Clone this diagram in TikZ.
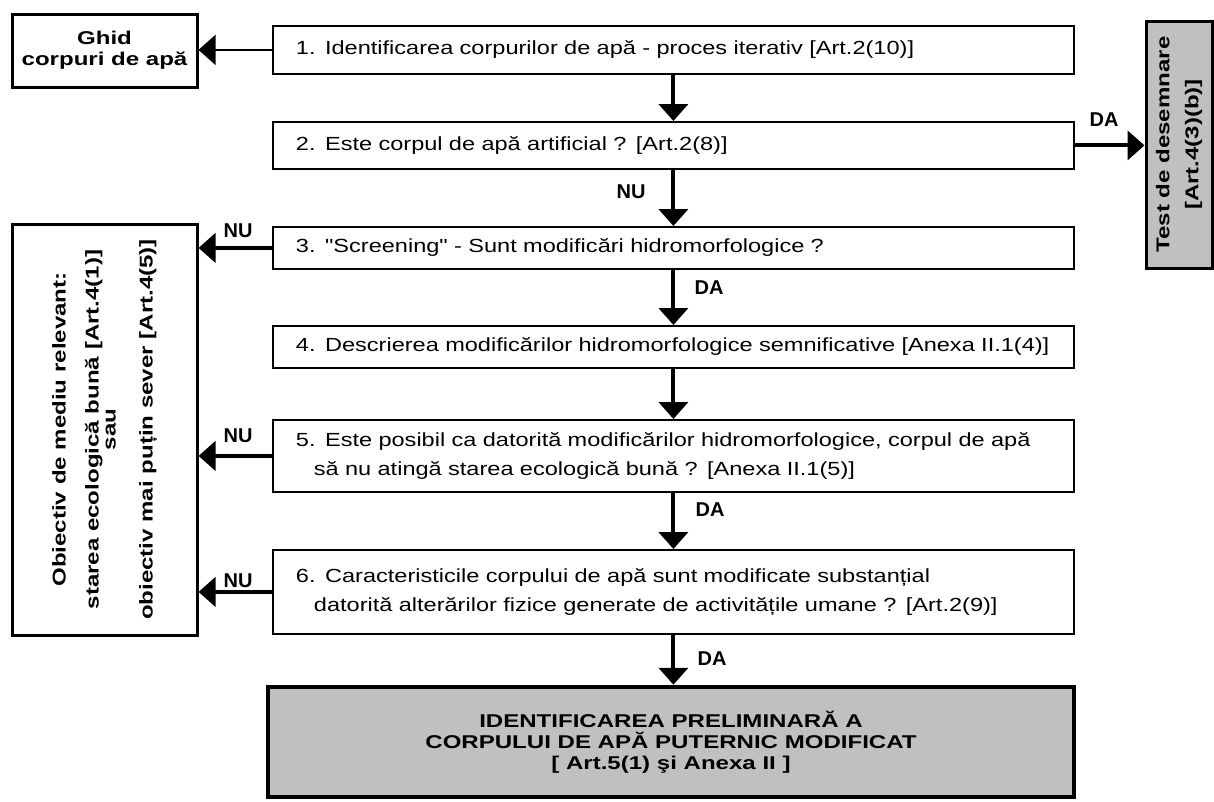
\documentclass[tikz,border=0pt]{standalone}
\usepackage{fontspec}
\setmainfont{Liberation Sans}
\newfontfamily\boxfont{Liberation Sans}[FakeStretch=1.24]
\newfontfamily\headfont{Liberation Sans}[FakeStretch=1.3]
\usetikzlibrary{arrows.meta}
\definecolor{panelgray}{HTML}{C0C0C0}
\begin{document}
\begin{tikzpicture}[x=1pt,y=-1pt,
  stepbox/.style={draw=black, line width=1.8pt, fill=white, anchor=north west,
    minimum width=801pt, text width=755pt, inner xsep=23pt, inner ysep=0pt,
    align=left, font=\boxfont\fontsize{19}{29}\selectfont},
  sidebox/.style={draw=black, line width=3pt, fill=white, align=center, inner sep=0pt,
    font=\headfont\bfseries\fontsize{18.5}{21}\selectfont},
  graybox/.style={draw=black, fill=panelgray, align=center, inner sep=0pt,
    font=\headfont\bfseries\fontsize{18.5}{21}\selectfont},
  flow/.style={line width=4pt, -{Triangle[length=17pt,width=29pt]}},
  thinflow/.style={line width=1.5pt, -{Triangle[length=17pt,width=30pt]}},
  answer/.style={font=\bfseries\fontsize{20}{22}\selectfont, inner sep=0pt}]
\useasboundingbox (0,0) rectangle (1214,801);

% main sequence of steps
\node[stepbox, minimum height=48pt] (b1) at (272,25)
  {\mbox{1. Identificarea corpurilor de apă - proces iterativ [Art.2(10)]}};
\node[stepbox, minimum height=47pt] (b2) at (272,121)
  {\mbox{2. Este corpul de apă artificial ? [Art.2(8)]}};
\node[stepbox, minimum height=42pt] (b3) at (272,226)
  {\mbox{3. "Screening" - Sunt modificări hidromorfologice ?}};
\node[stepbox, minimum height=42pt] (b4) at (272,325)
  {\mbox{4. Descrierea modificărilor hidromorfologice semnificative [Anexa II.1(4)]}};
\node[stepbox, minimum height=72pt] (b5) at (272,419)
  {\mbox{5. Este posibil ca datorită modificărilor hidromorfologice, corpul de apă}\\
   \hspace*{18pt}\mbox{să nu atingă starea ecologică bună ? [Anexa II.1(5)]}};
\node[stepbox, minimum height=84pt] (b6) at (272,549)
  {\mbox{6. Caracteristicile corpului de apă sunt modificate substanțial}\\
   \hspace*{18pt}\mbox{datorită alterărilor fizice generate de activitățile umane ? [Art.2(9)]}};

% result
\node[graybox, line width=4.5pt, minimum width=806pt, minimum height=110pt] (res) at (671,742)
  {IDENTIFICAREA PRELIMINARĂ A\\CORPULUI DE APĂ PUTERNIC MODIFICAT\\{}[ Art.5(1) şi Anexa II ]};

% side boxes
\node[sidebox, minimum width=185pt, minimum height=73pt] (ghid) at (104.5,50.5)
  {Ghid\\corpuri de apă};
\node[sidebox, rotate=90, minimum width=411pt, minimum height=185pt,
  font=\headfont\bfseries\fontsize{18.5}{30}\selectfont] (obj) at (104.5,429.5)
  {Obiectiv de mediu relevant:\\[3pt]
   starea ecologică bună [Art.4(1)]\\[-13pt]
   sau\\[7pt]
   obiectiv mai puțin sever [Art.4(5)]};
\node[graybox, line width=3pt, rotate=90, minimum width=247pt, minimum height=66pt,
  font=\headfont\bfseries\fontsize{18.5}{29}\selectfont] (test) at (1179,144.5)
  {Test de desemnare\\{}[Art.4(3)(b)]};

% connectors
\draw[thinflow] (b1.west) -- (ghid.east |- b1.west);
\draw[flow] (b1.south) -- (b2.north);
\draw[flow] (b2.east) -- (test.north |- b2.east);
\draw[flow] (b2.south) -- (b3.north);
\draw[flow] (b3.west) -- (obj.south |- b3.west);
\draw[flow] (b3.south) -- (b4.north);
\draw[flow] (b4.south) -- (b5.north);
\draw[flow] (b5.west) -- (obj.south |- b5.west);
\draw[flow] (b5.south) -- (b6.north);
\draw[flow] (b6.west) -- (obj.south |- b6.west);
\draw[flow] (b6.south) -- (b6.south |- res.north);

% answers on the connectors
\node[answer] (daTest) at (1104,120) {DA};
\node[answer] (nu2) at (631,192) {NU};
\node[answer] (da3) at (709,288) {DA};
\node[answer] (da5) at (710,510) {DA};
\node[answer] (da6) at (712,659) {DA};
\node[answer] (nu3) at (238,231) {NU};
\node[answer] (nu5) at (238,436) {NU};
\node[answer] (nu6) at (238,581) {NU};
\end{tikzpicture}
\end{document}
